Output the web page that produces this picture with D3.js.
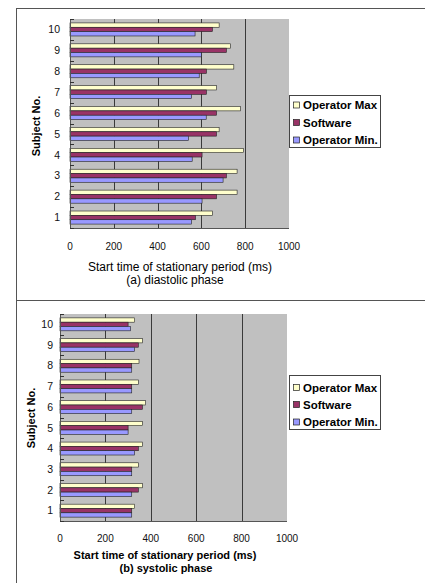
<!DOCTYPE html>
<html><head><meta charset="utf-8">
<script src="https://cdn.jsdelivr.net/npm/d3@7"></script>
<style>
html,body{margin:0;padding:0;background:#fff;}
svg{display:block;font-family:"Liberation Sans",Arial,sans-serif;}
</style></head>
<body>
<svg id="c" width="425" height="583"></svg>
<script>
const subjects = ["1","2","3","4","5","6","7","8","9","10"];
const seriesNames = ["Operator Max","Software","Operator Min."];
const seriesColors = ["#FFFFCC","#993366","#9999FF"];
const xTicks = [0,200,400,600,800,1000];

// diastolic phase (a)
const diaMax = [650,763,763,792,681,778,669,748,732,681];
const diaSoft = [573,669,714,603,669,669,623,623,714,650];
const diaMin = [555,603,699,558,541,622,555,590,600,571];
// systolic phase (b)
const sysMax = [329,363,345,363,363,377,345,348,363,329];
const sysSoft = [316,345,316,345,300,363,316,316,345,300];
const sysMin = [316,316,316,329,300,316,316,316,329,311];

const svg = d3.select("#c");

// frame
svg.append("line").attr("x1",16.5).attr("x2",16.5).attr("y1",8.5).attr("y2",583).attr("stroke","#555").attr("stroke-width",1);
svg.append("line").attr("x1",16).attr("x2",425).attr("y1",8.5).attr("y2",8.5).attr("stroke","#555").attr("stroke-width",1);
svg.append("line").attr("x1",16).attr("x2",425).attr("y1",300.5).attr("y2",300.5).attr("stroke","#555").attr("stroke-width",1);

function panel(cfg){
  const g = svg.append("g");
  const x = d3.scaleLinear().domain([0,1000]).range([cfg.left,cfg.right]);
  const y = d3.scaleBand().domain(subjects.slice().reverse()).range([cfg.top,cfg.bottom]).paddingInner(0).paddingOuter(0);
  const inner = d3.scaleBand().domain(seriesNames).range([0,y.bandwidth()]).paddingOuter(0.9).paddingInner(0);
  // plot background
  g.append("rect").attr("x",cfg.left).attr("y",cfg.top).attr("width",cfg.right-cfg.left).attr("height",cfg.bottom-cfg.top).attr("fill","#C0C0C0");
  // gridlines
  g.selectAll(".grid").data(xTicks.filter(t=>t>0&&t<1000)).join("line")
    .attr("x1",d=>Math.round(x(d))+0.5).attr("x2",d=>Math.round(x(d))+0.5)
    .attr("y1",cfg.top).attr("y2",cfg.bottom).attr("stroke","#3a3a3a").attr("stroke-width",1);
  // bars
  const data = [];
  subjects.forEach((s,i)=>{
    data.push({s, k:seriesNames[0], v:cfg.max[i], c:seriesColors[0]});
    data.push({s, k:seriesNames[1], v:cfg.soft[i], c:seriesColors[1]});
    data.push({s, k:seriesNames[2], v:cfg.min[i], c:seriesColors[2]});
  });
  g.selectAll(".bar").data(data).join("rect")
    .attr("x",x(0)).attr("y",d=>y(d.s)+inner(d.k))
    .attr("width",d=>x(d.v)-x(0)).attr("height",inner.bandwidth())
    .attr("fill",d=>d.c).attr("stroke","#222").attr("stroke-width",0.6);
  // plot border: left and bottom axis lines
  g.append("line").attr("x1",cfg.left+0.5).attr("x2",cfg.left+0.5).attr("y1",cfg.top).attr("y2",cfg.bottom).attr("stroke","#555");
  g.append("line").attr("x1",cfg.left).attr("x2",cfg.right).attr("y1",cfg.bottom+0.5).attr("y2",cfg.bottom+0.5).attr("stroke","#555");
  // category ticks (inside)
  const bounds = d3.range(0,11).map(i=>cfg.top+i*y.step());
  g.selectAll(".ct").data(bounds).join("line")
    .attr("x1",cfg.left).attr("x2",cfg.left+4).attr("y1",d=>Math.round(d)+0.5).attr("y2",d=>Math.round(d)+0.5)
    .attr("stroke","#333");
  // y labels
  g.selectAll(".yl").data(subjects).join("text")
    .attr("x",cfg.ylabX).attr("y",d=>y(d)+y.bandwidth()/2).attr("dy","0.35em")
    .attr("text-anchor","end").attr("font-size",10.5).attr("fill","#111").text(d=>d);
  // x tick labels
  g.selectAll(".xl").data(xTicks).join("text")
    .attr("x",d=>x(d)).attr("y",cfg.xlabY).attr("dy","0.35em")
    .attr("text-anchor","middle").attr("font-size",10).attr("fill","#111").text(d=>d);
  // x title
  g.append("text").attr("x",cfg.titleX).attr("y",cfg.titleY).attr("dy","0.35em").attr("text-anchor","middle")
    .attr("font-size",cfg.titleSize).attr("font-weight",cfg.titleWeight).attr("fill","#000").text("Start time of stationary period (ms)");
  g.append("text").attr("x",cfg.subX).attr("y",cfg.subY).attr("dy","0.35em").attr("text-anchor","middle")
    .attr("font-size",cfg.titleSize).attr("font-weight",cfg.titleWeight).attr("fill","#000").text(cfg.sub);
  // y title
  g.append("text").attr("transform",`translate(${cfg.ytX},${cfg.ytY}) rotate(-90)`).attr("dy","0.35em")
    .attr("text-anchor","middle").attr("font-size",11).attr("font-weight","bold").attr("fill","#000").text("Subject No.");
  // legend
  const L = cfg.legend;
  g.append("rect").attr("x",L.x+0.5).attr("y",L.y+0.5).attr("width",L.w).attr("height",L.h).attr("fill","#fff").attr("stroke","#444").attr("stroke-width",1);
  const le = g.selectAll(".le").data(seriesNames).join("g")
    .attr("transform",(d,i)=>`translate(${L.x+4},${L.rows[i]})`);
  le.append("rect").attr("x",0.5).attr("y",-3).attr("width",6).attr("height",6)
    .attr("fill",(d,i)=>seriesColors[i]).attr("stroke","#222").attr("stroke-width",0.7);
  le.append("text").attr("x",10).attr("y",0).attr("dy","0.35em").attr("font-size",11.5).attr("font-weight","bold").attr("fill","#000").text(d=>d);
}

panel({left:70,right:289,top:19,bottom:228,max:diaMax,soft:diaSoft,min:diaMin,
  ylabX:60,xlabY:246,titleX:180,titleY:267,subX:175,subY:279.5,sub:"(a) diastolic phase",
  titleSize:12,titleWeight:"normal",ytX:36,ytY:126,
  legend:{x:289,y:95,w:91,h:52,rows:[105,122.5,140]}});
panel({left:60,right:287,top:314,bottom:521,max:sysMax,soft:sysSoft,min:sysMin,
  ylabX:53,xlabY:538,titleX:165,titleY:555,subX:166,subY:568,sub:"(b) systolic phase",
  titleSize:11,titleWeight:"bold",ytX:31,ytY:418,
  legend:{x:289,y:375,w:91,h:54,rows:[387.5,404.5,422]}});
</script>
</body></html>
